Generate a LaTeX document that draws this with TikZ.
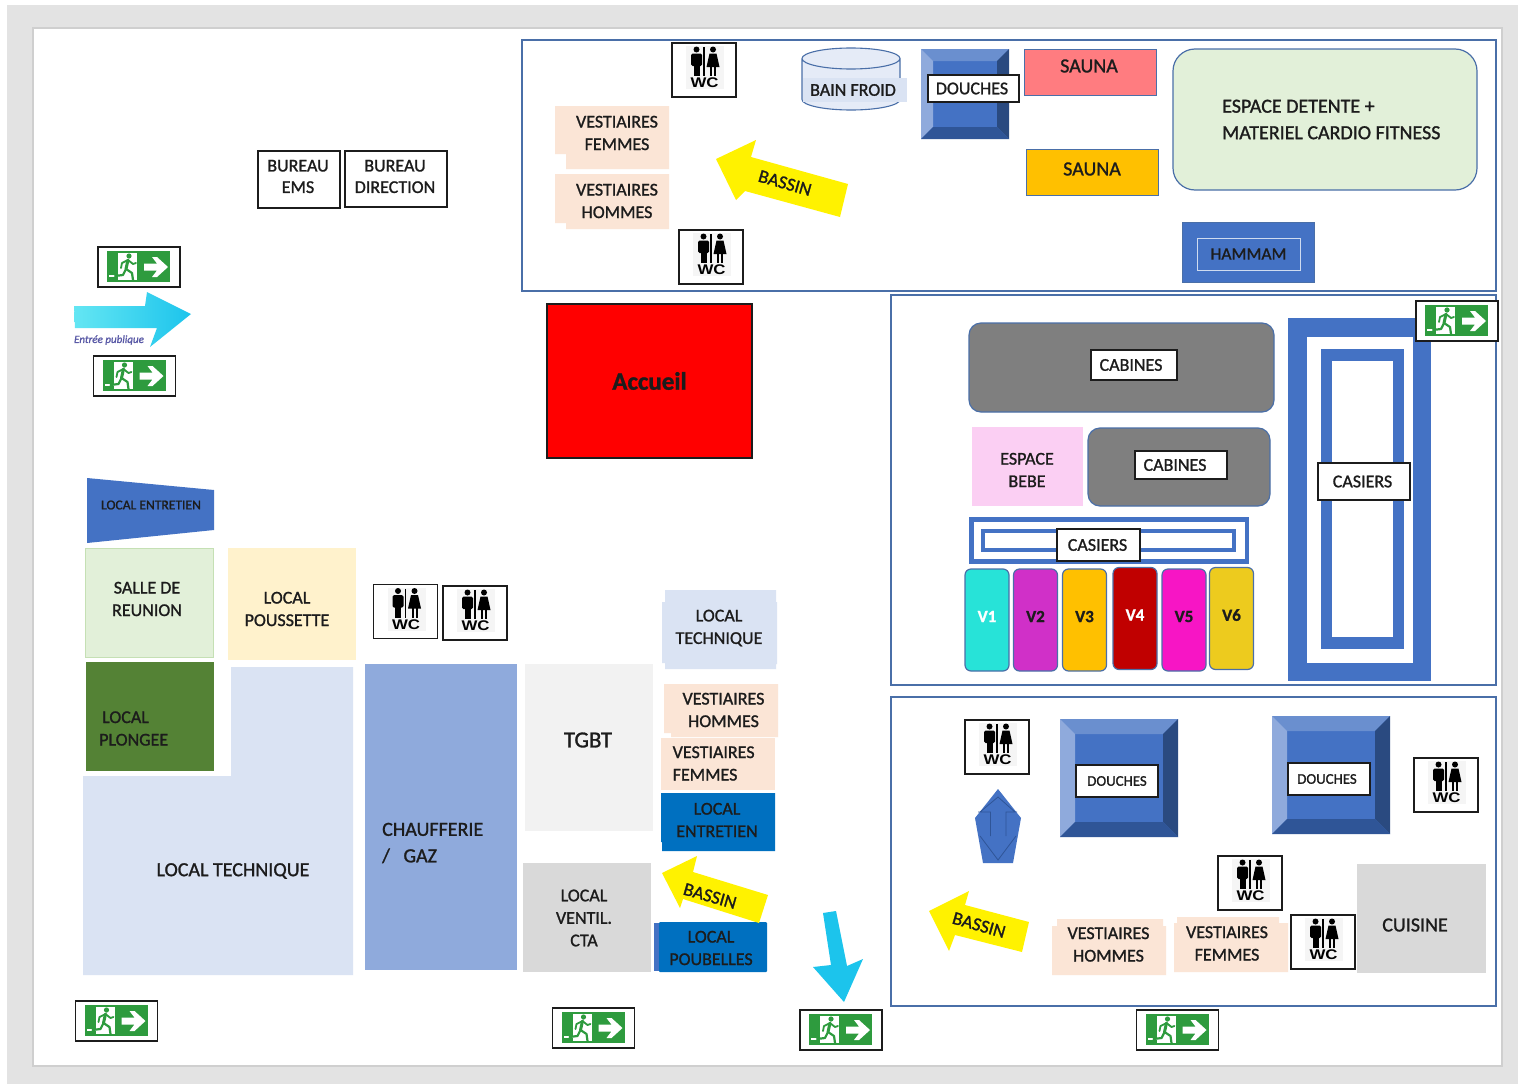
\documentclass[tikz,border=0pt]{standalone}
\usepackage{fontspec}
\setmainfont{Carlito}[FakeBold=1.2]
\newfontfamily\signfont{Liberation Sans}
\usetikzlibrary{positioning,shapes}

\definecolor{planblue}{HTML}{4472C4}
\definecolor{framblue}{HTML}{4A6FA8}
\definecolor{vestpink}{HTML}{FBE5D6}
\definecolor{techblue}{HTML}{DAE3F3}
\definecolor{paleblue}{HTML}{8FAADC}
\definecolor{deepblue}{HTML}{0070C0}
\definecolor{skyarrow}{HTML}{1CC4EC}
\definecolor{palegreen}{HTML}{E2F0D9}
\definecolor{exitgreen}{HTML}{2E9B3E}
\definecolor{inktext}{HTML}{1C1C1C}

% bevelled blue square: x0 y0 x1 y1 bevel
\newcommand{\bevelbox}[5]{
  \fill[planblue] (#1,#2) rectangle (#3,#4);
  \fill[fill={rgb,255:red,106;green,143;blue,207}] (#1,#2) -- (#3,#2) -- (#3-#5,#2+#5) -- (#1+#5,#2+#5) -- cycle;
  \fill[paleblue] (#1,#2) -- (#1+#5,#2+#5) -- (#1+#5,#4-#5) -- (#1,#4) -- cycle;
  \fill[fill={rgb,255:red,42;green,74;blue,128}] (#3,#2) -- (#3,#4) -- (#3-#5,#4-#5) -- (#3-#5,#2+#5) -- cycle;
  \fill[fill={rgb,255:red,47;green,85;blue,151}] (#1,#4) -- (#3,#4) -- (#3-#5,#4-#5) -- (#1+#5,#4-#5) -- cycle;
}

\tikzset{
  sized/.style 2 args={minimum width=#1pt, minimum height=#2pt, inner sep=0pt, outer sep=0pt},
  txt/.style={align=center, text=inktext, inner sep=0pt, font=\fontsize{18}{22.5}\selectfont},
  bigtxt/.style={txt, font=\fontsize{20}{26.5}\selectfont},
  tag/.style={draw=inktext, line width=1.1pt, fill=white, txt},
  smalltag/.style={tag, font=\fontsize{14.8}{17}\selectfont},
  cabin/.style={draw=framblue, line width=1.2pt, rounded corners=12pt, fill={rgb,255:red,127;green,127;blue,127}},
  vbox/.style={draw=framblue, line width=1.2pt, rounded corners=6pt, sized={44}{102}, txt, font=\fontsize{17}{20}\selectfont\bfseries},
  basin/.style={fill=yellow},
  bassintxt/.style={txt, rotate=-16, font=\fontsize{18.5}{20}\selectfont},
  pics/exitsign/.style={code={
    \draw[fill=white, draw=inktext, line width=1.1pt] (-41,-20) rectangle (41,20);
    \fill[exitgreen] (-32,-16) rectangle (31,15);
    \fill[white] (-21,-14) rectangle (-2,13);
    \fill[white] (-30,8) rectangle (-21,10);
    % runner
    \fill[exitgreen] (-10,-11) circle (2.6pt);
    \draw[exitgreen, line width=3pt, line cap=round] (-11,-7) -- (-13,2);
    \draw[exitgreen, line width=2.2pt, line cap=round, line join=round] (-13,2) -- (-7,6) -- (-6,13);
    \draw[exitgreen, line width=2.2pt, line cap=round, line join=round] (-13,2) -- (-16,8) -- (-24,9);
    \draw[exitgreen, line width=1.8pt, line cap=round, line join=round] (-11,-7) -- (-6,-3) -- (-3,-4);
    \draw[exitgreen, line width=1.8pt, line cap=round, line join=round] (-11,-7) -- (-17,-4) -- (-18,1);
    % arrow
    \fill[white] (5,-3.5) -- (18,-3.5) -- (13,-10) -- (18,-10) -- (29,0) -- (18,10) -- (13,10) -- (18,3.5) -- (5,3.5) -- cycle;
  }},
  pics/wcsign/.style={code={
    \draw[fill=white, draw=inktext, line width=1.1pt] (-32,-27) rectangle (32,27);
    \fill[gray!8] (-18,-24) rectangle (20,19);
    % man
    \fill[black] (-7.5,-20.5) circle (3pt);
    \fill[black, rounded corners=1.5pt] (-13,-16.5) rectangle (-2,-4);
    \fill[black] (-10.5,-5) rectangle (-4.5,6);
    % pole
    \fill[black] (-0.8,-23) rectangle (0.8,6);
    % woman
    \fill[black] (9,-20.5) circle (3pt);
    \fill[black] (5.5,-16.5) -- (12.5,-16.5) -- (15.5,-3) -- (2.5,-3) -- cycle;
    \fill[black] (6,-4) rectangle (8,6);
    \fill[black] (10,-4) rectangle (12,6);
    \node[inner sep=0pt, text=black, xscale=1.2, font=\signfont\bfseries\fontsize{14}{16}\selectfont] (-txt) at (0.5,13) {WC};
  }}
}

\begin{document}
\begin{tikzpicture}[x=1pt, y=-1pt]
\useasboundingbox (0,0) rectangle (1523,1084);

% Page
\fill[white] (0,0) rectangle (1523,1084);
\fill[gray!22] (7,5) rectangle (1518,1084);
\draw[fill=white, draw=gray!38, line width=1.6pt] (33,28) rectangle (1502,1066);

% Zones
\draw[draw=framblue, line width=1.1pt] (522,40) rectangle (1496,291);
\draw[draw=framblue, line width=1.1pt] (891,295) rectangle (1496,685);
\draw[draw=framblue, line width=1.1pt] (891,697) rectangle (1496,1006);

% Bureaux
\node[tag, sized={82}{57}] (bureau_ems) at (299,179.5) {};
\node[txt, font=\fontsize{18}{21.5}\selectfont] (bureau_ems_txt) at (298,176.5) {BUREAU\\EMS};
\node[tag, sized={102}{56}] (bureau_direction) at (396,179) {};
\node[txt, font=\fontsize{18}{21.5}\selectfont] (bureau_direction_txt) at (395,176.5) {BUREAU\\DIRECTION};

% Espace bassin
\fill[vestpink] (555,106) -- (669,106) -- (669,169) -- (566,169) -- (566,154) -- (555,154) -- cycle;
\node[txt] (vest_f_haut) at (617,133) {VESTIAIRES\\FEMMES};
\fill[vestpink] (555,174) -- (669,174) -- (669,229) -- (566,229) -- (566,223) -- (555,223) -- cycle;
\node[txt] (vest_h_haut) at (617,201) {VESTIAIRES\\HOMMES};

\fill[basin] (716,159) -- (756,140) -- (751,157) -- (848,184) -- (840,217) -- (745,191) -- (736,200) -- cycle;
\node[bassintxt] (bassin_haut) at (785,183) {BASSIN};

\path[fill=techblue!70!white, draw=framblue, line width=1.1pt] (802,58.5) -- (802,99.5) arc[start angle=180, end angle=360, x radius=49pt, y radius=10.5pt] -- (900,58.5) arc[start angle=0, end angle=360, x radius=49pt, y radius=10.5pt];
\node[txt, fill=techblue, sized={104}{24}] (bain_froid) at (855,90) {BAIN FROID\hspace{4pt}};

\bevelbox{921}{49}{1009}{139}{12}
\node[tag, sized={91}{27}] (douches_haut) at (973.5,88.5) {DOUCHES\hspace{3pt}};

\node[draw=framblue, fill={rgb,255:red,255;green,124;blue,128}, sized={132}{46}] (sauna_a) at (1090,72) {};
\node[bigtxt] (sauna_a_txt) at (1089,66) {SAUNA};
\node[draw=framblue, fill={rgb,255:red,255;green,192;blue,0}, sized={132}{46}] (sauna_b) at (1092,172.5) {};
\node[bigtxt] (sauna_b_txt) at (1092,169) {SAUNA};

\node[draw=framblue, line width=1.2pt, fill=palegreen, rounded corners=22pt, sized={304}{141}] (detente) at (1325,119.5) {};
\node[bigtxt, align=left, anchor=west] (detente_txt) at (1222,119.5) {ESPACE DETENTE +\\MATERIEL CARDIO FITNESS};

\node[fill=planblue, draw=framblue, sized={132}{60}] (hammam) at (1248,252) {};
\node[txt, draw=white!75!planblue, line width=1pt, sized={103}{32}, font=\fontsize{17.5}{20}\selectfont] (hammam_txt) at (1248.5,254) {HAMMAM};

% Accueil
\node[draw=inktext, line width=1.1pt, fill=red, sized={205}{154}, txt, font=\fontsize{25}{28}\selectfont\bfseries] (accueil) at (649.5,381) {Accueil};

% Entree publique
\shade[left color={rgb,255:red,100;green,230;blue,243}, right color=skyarrow, shading angle=90] (74,306) -- (145,306) -- (147,292) -- (191,314) -- (150,347) -- (157,328) -- (75,328) -- cycle;
\node[txt, text=gray!70!blue, font=\fontsize{11}{13}\selectfont\itshape] (entree) at (109,340) {Entrée publique};

% Vestiaires cabines
\node[cabin, sized={305}{89}] (cabines_a) at (1121.5,367.5) {};
\node[tag, sized={86}{30}] (cabines_a_txt) at (1134,365) {CABINES\hspace{6pt}};
\node[fill={rgb,255:red,251;green,207;blue,243}, sized={111}{79}] (bebe) at (1027.5,466.5) {};
\node[txt] (bebe_txt) at (1027,470) {ESPACE\\BEBE};
\node[cabin, sized={182}{78}] (cabines_b) at (1179,467) {};
\node[tag, sized={92}{28}] (cabines_b_txt) at (1181,465) {CABINES\hspace{12pt}};

% Casiers
\fill[planblue] (969,517) rectangle (1249,564);
\fill[white] (974,522) rectangle (1245,559);
\fill[planblue] (981,529) rectangle (1236,552);
\fill[white] (985,533) rectangle (1232,548);
\node[tag, sized={83}{32}] (casiers_a) at (1098.5,545) {CASIERS\hspace{2pt}};

\fill[planblue] (1288,318) rectangle (1431,681);
\fill[white] (1307,337) rectangle (1413,663);
\fill[planblue] (1321,349) rectangle (1404,649);
\fill[white] (1332,361) rectangle (1393,637);
\node[tag, sized={92}{37}] (casiers_b) at (1364,481.5) {CASIERS\hspace{3pt}};

% Vestiaires collectifs
\node[vbox, fill={rgb,255:red,39;green,227;blue,216}, text=white] (v1) at (987,620) {\raisebox{7pt}{V1}};
\node[vbox, fill={rgb,255:red,208;green,48;blue,200}] (v2) at (1035.5,620) {\raisebox{7pt}{V2}};
\node[vbox, fill={rgb,255:red,255;green,192;blue,0}] (v3) at (1084.5,620) {\raisebox{7pt}{V3}};
\node[vbox, fill={rgb,255:red,192;green,0;blue,0}, text=white] (v4) at (1135,618.5) {\raisebox{7pt}{V4}};
\node[vbox, fill={rgb,255:red,247;green,21;blue,197}] (v5) at (1184,620) {\raisebox{7pt}{V5}};
\node[vbox, fill={rgb,255:red,237;green,203;blue,30}] (v6) at (1231.5,618.5) {\raisebox{7pt}{V6}};

% Local entretien
\path[fill=planblue] (87,478) -- (214,490) -- (214,530) -- (87,543) -- cycle;
\node[txt, font=\fontsize{13.6}{15}\selectfont] (entretien_a) at (151,505) {LOCAL ENTRETIEN};

% Locaux ouest
\node[draw={rgb,255:red,197;green,224;blue,180}, fill=palegreen, sized={128}{109}] (reunion) at (149,602.5) {};
\node[txt] (reunion_txt) at (147,599) {SALLE DE\\REUNION};
\node[fill={rgb,255:red,255;green,242;blue,204}, sized={128}{112}] (poussette) at (292,604) {};
\node[txt] (poussette_txt) at (287,609) {LOCAL\\POUSSETTE};
\fill[fill={rgb,255:red,84;green,130;blue,53}] (86,662) rectangle (214,771);
\node[txt, align=left, anchor=west] (plongee) at (99,728.5) {\hspace{3pt}LOCAL\\PLONGEE};

\fill[techblue] (231,667) -- (353,667) -- (353,975) -- (83,975) -- (83,776) -- (231,776) -- cycle;
\node[bigtxt] (technique_a) at (233,871) {LOCAL TECHNIQUE};

\node[fill=paleblue, sized={152}{306}] (chaufferie) at (441,817) {};
\node[bigtxt, align=left, anchor=west] (chaufferie_txt) at (382,843) {CHAUFFERIE\\/\ \ \ GAZ};

\node[fill=gray!10, sized={128}{167}] (tgbt_bg) at (589,747.5) {};
\node[txt, font=\fontsize{23}{26}\selectfont] (tgbt) at (588,740) {TGBT};
\node[fill=gray!30, sized={128}{109}] (ventil) at (587,917.5) {};
\node[txt] (ventil_txt) at (584,918) {LOCAL\\VENTIL.\\CTA};

% Locaux centre
\fill[techblue] (665,590) -- (776,590) -- (776,602) -- (777,602) -- (777,664) -- (776,664) -- (776,669) -- (665,669) -- (665,663) -- (662,663) -- (662,602) -- (665,602) -- cycle;
\node[txt] (technique_b) at (719,628) {LOCAL\\TECHNIQUE};
\fill[vestpink] (664,684) -- (778,684) -- (778,737) -- (671,737) -- (671,733) -- (664,733) -- cycle;
\node[txt] (vest_h_centre) at (723.5,710) {VESTIAIRES\\HOMMES};
\fill[vestpink] (661,738) rectangle (775,790);
\node[txt, align=left, anchor=west] (vest_f_centre) at (672.5,763.5) {VESTIAIRES\\FEMMES};
\fill[deepblue] (661,793) rectangle (775,842) (662,842) rectangle (775,851);
\node[txt] (entretien_b) at (717,820) {LOCAL\\ENTRETIEN};

\fill[planblue] (654,923) rectangle (662,971);
\fill[deepblue, rounded corners=1pt] (659,922) rectangle (767,972);
\node[txt] (poubelles) at (711,948) {LOCAL\\POUBELLES};

\fill[basin] (662,873) -- (697,856) -- (693,872) -- (768,895) -- (759,923) -- (683,899) -- (680,908) -- cycle;
\node[bassintxt] (bassin_centre) at (710,896) {BASSIN};

% Fleche sortie
\fill[skyarrow] (823,913) -- (836,911) -- (847,966) -- (863,959) -- (844,1002) -- (813,967) -- (831,965) -- cycle;

% Zone sud est
\bevelbox{1060}{719}{1178}{837}{15}
\node[smalltag, sized={82}{32}] (douches_a) at (1117,781) {DOUCHES};
\bevelbox{1272}{716}{1390}{834}{15}
\node[smalltag, sized={82}{32}] (douches_b) at (1329,779) {DOUCHES\hspace{4pt}};

\fill[planblue] (998,789) -- (1021,818) -- (1013,863) -- (983,863) -- (975,818) -- cycle;
\draw[fill=none, draw={rgb,255:red,47;green,85;blue,151}, line width=0.8pt] (980,836) -- (998,860) -- (1016,836) (990.5,836) -- (990.5,812) -- (978,812) (1006,836) -- (1006,812) -- (1017,812) (980,812) -- (998,797) -- (1015,812);

\fill[basin] (929,911) -- (969,891) -- (965,905) -- (1029,922) -- (1022,952) -- (955,935) -- (949,951) -- cycle;
\node[bassintxt] (bassin_bas) at (979,925) {BASSIN};

\fill[vestpink] (1057,919) -- (1163,919) -- (1163,926) -- (1166,926) -- (1166,975) -- (1052,975) -- (1052,926) -- (1057,926) -- cycle;
\node[txt] (vest_h_bas) at (1108.5,944.5) {VESTIAIRES\\HOMMES};
\fill[vestpink] (1177,917) -- (1279,917) -- (1279,923) -- (1288,923) -- (1288,972) -- (1174,972) -- (1174,923) -- (1177,923) -- cycle;
\node[txt] (vest_f_bas) at (1227,943.5) {VESTIAIRES\\FEMMES};
\node[fill=gray!30, sized={129}{109}] (cuisine) at (1421.5,918.5) {};
\node[bigtxt] (cuisine_txt) at (1415,925) {CUISINE};

% WC
\pic (wc_a) at (704,70) {wcsign};
\pic (wc_b) at (711,257) {wcsign};
\pic (wc_c) at (405.5,611.5) {wcsign};
\pic (wc_d) at (475,613) {wcsign};
\pic (wc_e) at (997,747) {wcsign};
\pic (wc_f) at (1446,785) {wcsign};
\pic (wc_g) at (1250,883) {wcsign};
\pic (wc_h) at (1323,942) {wcsign};

% Sorties
\pic (exit_a) at (139,267) {exitsign};
\pic (exit_b) at (134.5,376) {exitsign};
\pic (exit_c) at (1457,321) {exitsign};
\pic (exit_d) at (116.5,1021) {exitsign};
\pic (exit_e) at (593.5,1028) {exitsign};
\pic (exit_f) at (841,1030) {exitsign};
\pic (exit_g) at (1177.5,1030) {exitsign};

\end{tikzpicture}
\end{document}
